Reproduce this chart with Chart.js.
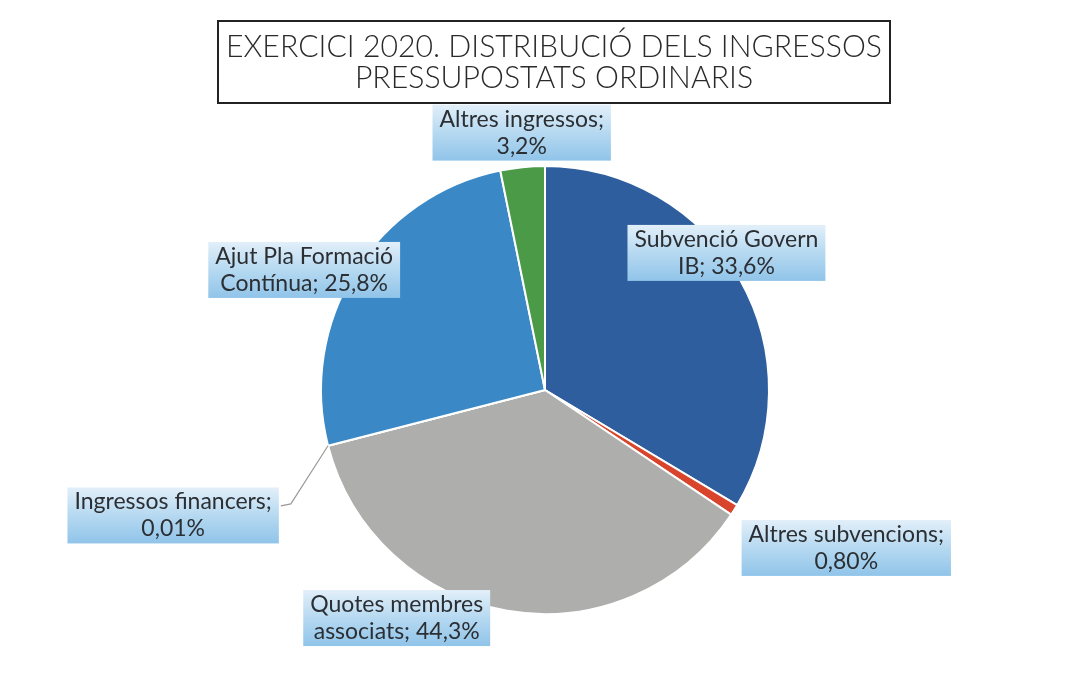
<!DOCTYPE html>
<html>
<head>
<meta charset="utf-8">
<script src="https://cdn.jsdelivr.net/npm/chart.js@4.4.0/dist/chart.umd.min.js"></script>
<style>
  html, body { margin: 0; padding: 0; background: #fff; }
  #wrap { width: 1070px; height: 678px; }
</style>
</head>
<body>
<div id="wrap"><canvas id="chart-pie"></canvas></div>
<script>
/* Chart Pie - ingressos 2020 */
var titleLines = ['EXERCICI 2020. DISTRIBUCIÓ DELS INGRESSOS', 'PRESSUPOSTATS ORDINARIS'];
var categories = ['Subvenció Govern IB', 'Altres subvencions', 'Quotes membres associats',
                  'Ingressos financers', 'Ajut Pla Formació Contínua', 'Altres ingressos'];
// slice sizes as drawn (the printed 44,3% of Quotes does not match its slice, which is ~36,6%)
var shares = [33.6, 0.8, 36.6, 0.01, 25.8, 3.2];
var pctLabels = ['33,6%', '0,80%', '44,3%', '0,01%', '25,8%', '3,2%'];
var labelLines = [
    ['Subvenció Govern', 'IB; ' + pctLabels[0]],
    ['Altres subvencions;', pctLabels[1]],
    ['Quotes membres', 'associats; ' + pctLabels[2]],
    ['Ingressos financers;', pctLabels[3]],
    ['Ajut Pla Formació', 'Contínua; ' + pctLabels[4]],
    ['Altres ingressos;', pctLabels[5]]
];
var sliceColors = ['#2e5e9e', '#d8452c', '#aeaeac', '#8fb0cf', '#3a89c6', '#4b9a48'];

// label centres, in units of the pie radius from the pie centre
var labelPos = [[0.81, -0.612], [1.345, 0.705], [-0.662, 1.018], [-1.66, 0.56], [-1.075, -0.536], [-0.104, -1.149]];

var labelPlugin = {
    id: 'labelPlugin',
    afterDraw: function (chart) {
        var ctx = chart.ctx;
        var arcs = chart.getDatasetMeta(0).data;
        var cx = arcs[0].x, cy = arcs[0].y, r = arcs[0].outerRadius;

        // title box
        ctx.save();
        ctx.strokeStyle = '#222';
        ctx.lineWidth = 2;
        ctx.strokeRect(218, 21, 672, 82);
        ctx.fillStyle = '#2a2a2a';
        ctx.font = '300 31px Lato';
        ctx.textAlign = 'center';
        ctx.textBaseline = 'middle';
        var sx = 656 / ctx.measureText(titleLines[0]).width;
        ctx.translate(554, 0);
        ctx.scale(sx, 1);
        ctx.fillText(titleLines[0], 0, 47);
        ctx.fillText(titleLines[1], 0, 78);
        ctx.restore();

        // data labels
        ctx.save();
        ctx.font = '23px Lato';
        ctx.textBaseline = 'middle';
        ctx.textAlign = 'center';
        var lh = 27, scaleX = 1.0;
        labelLines.forEach(function (lines, i) {
            var x = cx + labelPos[i][0] * r;
            var y = cy + labelPos[i][1] * r;
            var w = 0;
            lines.forEach(function (t) { w = Math.max(w, ctx.measureText(t).width * scaleX); });
            w += 14;
            var h = lh * lines.length + 2;
            var top = y - h / 2;
            var g = ctx.createLinearGradient(0, top, 0, top + h);
            g.addColorStop(0, '#e2eff9');
            g.addColorStop(0.5, '#b6d9f1');
            g.addColorStop(1, '#90c4e9');
            ctx.fillStyle = g;
            ctx.fillRect(x - w / 2, top, w, h);

            if (i === 3) {
                var a = (arcs[i].startAngle + arcs[i].endAngle) / 2;
                ctx.strokeStyle = '#9a9a9a';
                ctx.lineWidth = 1.2;
                ctx.beginPath();
                ctx.moveTo(cx + Math.cos(a) * r, cy + Math.sin(a) * r);
                ctx.lineTo(x + w / 2 + 12, y - lh / 2 + 2);
                ctx.lineTo(x + w / 2 + 2, y - lh / 2 + 4);
                ctx.stroke();
            }

            ctx.fillStyle = '#2b2f33';
            lines.forEach(function (t, k) {
                ctx.save();
                ctx.translate(x, y + (k - (lines.length - 1) / 2) * lh);
                ctx.scale(scaleX, 1);
                ctx.fillText(t, 0, 0);
                ctx.restore();
            });
        });
        ctx.restore();
    }
};

var pieCanvas = document.getElementById('chart-pie').getContext('2d');
var pieChart = new Chart(pieCanvas, {
    type: 'pie',
    data: {
        labels: categories,
        datasets: [{
            data: shares,
            backgroundColor: sliceColors,
            borderColor: '#ffffff',
            borderWidth: 2
        }]
    },
    options: {
        responsive: true,
        maintainAspectRatio: false,
        animation: false,
        layout: {
            padding: { left: 20, right: 0, top: 165, bottom: 63 }
        },
        plugins: {
            legend: { display: false },
            tooltip: { enabled: false },
            title: { display: false }
        }
    },
    plugins: [labelPlugin]
});
</script>
</body>
</html>
